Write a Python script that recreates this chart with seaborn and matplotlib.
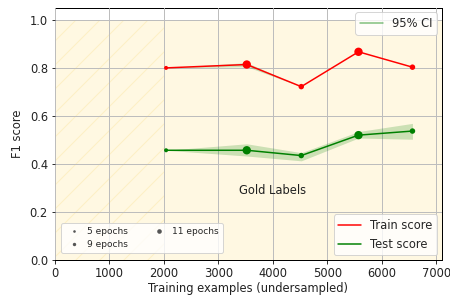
import numpy as np
import pandas as pd
import matplotlib
matplotlib.use("Agg")
import matplotlib.pyplot as plt
import seaborn as sns
from matplotlib.lines import Line2D

# ---- data ----
train_sizes = [2040, 3520, 4520, 5570, 6560]
epochs = [5, 11, 9, 11, 9]
train_score = [0.800, 0.814, 0.722, 0.867, 0.803]
train_lo = [0.800, 0.805, 0.722, 0.867, 0.803]
train_hi = [0.800, 0.822, 0.722, 0.867, 0.803]
test_score = [0.457, 0.457, 0.435, 0.520, 0.537]
test_lo = [0.457, 0.433, 0.413, 0.508, 0.503]
test_hi = [0.457, 0.484, 0.447, 0.535, 0.569]
epoch_labels = ["5 epochs", "9 epochs", "11 epochs"]

sns.set_style("ticks")
plt.rcParams['font.family'] = ['DejaVu Sans']
plt.rcParams['hatch.color'] = '#fdf0c4'
plt.rcParams['hatch.linewidth'] = 1.0

FS = 11.5

fig = plt.figure(figsize=(450/72, 302/72), dpi=72)
ax = fig.add_axes([0.122, 0.139, 0.860, 0.835])

# background regions
ax.fill_between([0, 2000], 0, 1, facecolor='#fff8e2', edgecolor='#fdf0c4',
                hatch='/', linewidth=0, zorder=0)
ax.fill_between([2000, 7100], 0, 1, facecolor='#fff8e2', linewidth=0, zorder=0)

ax.grid(True, color='#bdbdbd', linewidth=1.0, zorder=1)
ax.set_axisbelow(False)

df = pd.DataFrame({"x": train_sizes, "train": train_score, "test": test_score,
                   "epochs": epochs})

# CI bands
ax.fill_between(train_sizes, train_lo, train_hi, color='green', alpha=0.2,
                linewidth=0, zorder=3)
ax.fill_between(train_sizes, test_lo, test_hi, color='green', alpha=0.2,
                linewidth=0, zorder=3)

sns.lineplot(data=df, x="x", y="train", color='red', linewidth=1.5, ax=ax,
             zorder=4, legend=False)
sns.lineplot(data=df, x="x", y="test", color='green', linewidth=1.5, ax=ax,
             zorder=4, legend=False)

sizes = {5: 16, 9: 30, 11: 70}
sns.scatterplot(data=df, x="x", y="train", size="epochs", sizes=sizes,
                color='red', edgecolor='none', ax=ax, zorder=5, legend=False)
sns.scatterplot(data=df, x="x", y="test", size="epochs", sizes=sizes,
                color='green', edgecolor='none', ax=ax, zorder=5, legend=False)

ax.text(4000, 0.29, "Gold Labels", ha='center', va='center', fontsize=FS,
        color='#222222')

ax.set_xlim(0, 7100)
ax.set_ylim(0, 1.05)
ax.set_xticks(range(0, 7001, 1000))
ax.set_yticks([0.0, 0.2, 0.4, 0.6, 0.8, 1.0])
ax.tick_params(labelsize=FS, colors='black')
for lab in ax.get_xticklabels() + ax.get_yticklabels():
    lab.set_color('#222222')
ax.set_xlabel("Training examples (undersampled)", fontsize=FS, color='#222222',
              labelpad=2)
ax.set_ylabel("F1 score", fontsize=FS, color='#222222', labelpad=6)
for s in ax.spines.values():
    s.set_visible(True)
    s.set_color('black')
    s.set_linewidth(1.0)

# legends
h_ci = [Line2D([], [], color='green', alpha=0.5, linewidth=1.5)]
leg1 = ax.legend(h_ci, ["95% CI"], loc='upper right', fontsize=FS,
                 frameon=True, borderaxespad=0.4)
ax.add_artist(leg1)

h_ep = [Line2D([], [], marker='o', linestyle='none', color='#555555',
               markersize=ms, markeredgewidth=0)
        for ms in [2.6, 3.4, 4.6]]
leg2 = ax.legend(h_ep, epoch_labels, loc='lower left', ncol=2, fontsize=9,
                 frameon=True, bbox_to_anchor=(0.005, 0.01),
                 handletextpad=0.5, columnspacing=2.4)
ax.add_artist(leg2)

h_ln = [Line2D([], [], color='red', linewidth=1.5),
        Line2D([], [], color='green', linewidth=1.5)]
ax.legend(h_ln, ["Train score", "Test score"], loc='lower right', fontsize=FS,
          frameon=True, borderaxespad=0.4)

fig.savefig("out.png", dpi=72)
